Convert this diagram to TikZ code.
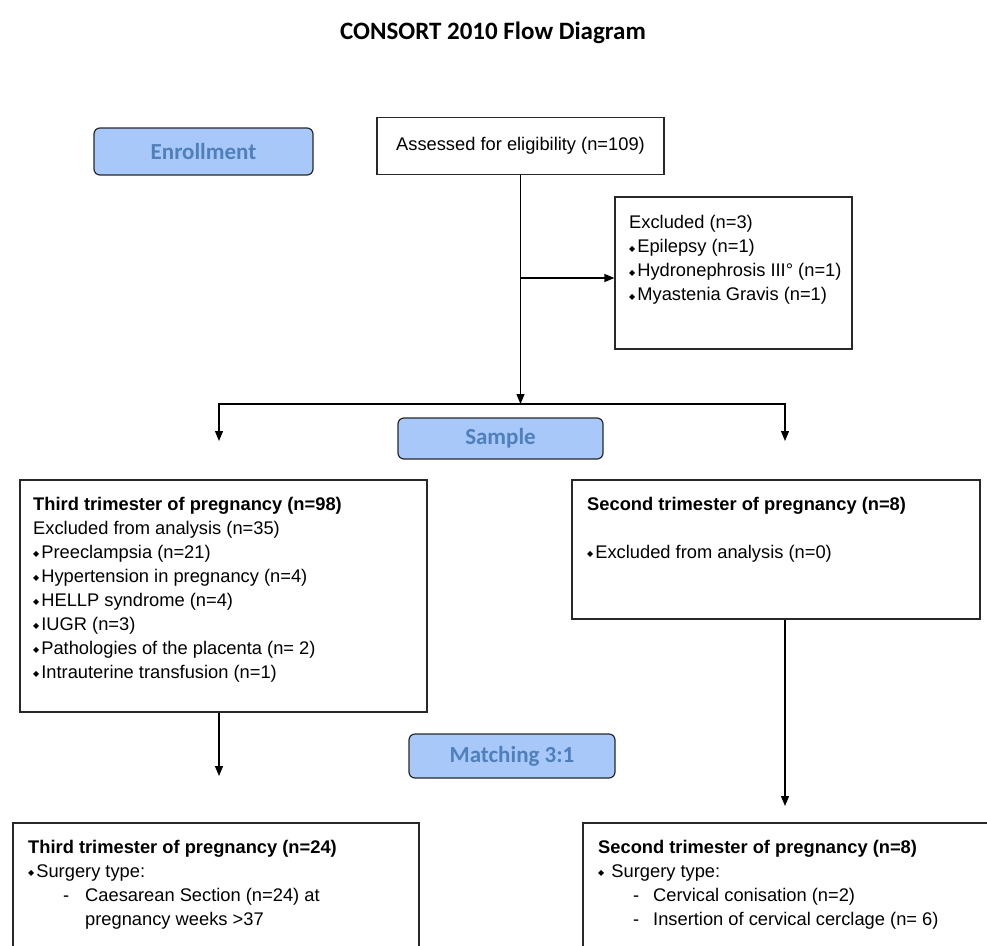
\documentclass[tikz,border=0pt]{standalone}
\usepackage{fontspec}
\setmainfont{Liberation Sans}
\newfontfamily\calfont{Carlito}
\newfontfamily\symfont{DejaVu Sans}
\usetikzlibrary{arrows.meta, positioning, calc}
\definecolor{stageblue}{RGB}{168, 200, 250}
\definecolor{stagetext}{RGB}{80, 128, 188}
\definecolor{boxline}{RGB}{40, 40, 40}
\newcommand{\dmd}{\raisebox{1.6pt}{\fontsize{8}{8}\selectfont\symfont ◆}\hspace{2pt}}
\tikzset{
  flowbox/.style={draw=boxline, line width=1.2pt, inner sep=0pt},
  stagebox/.style={draw=boxline, line width=1.2pt, rounded corners=6pt, fill=stageblue, text=stagetext, inner sep=0pt, font=\calfont\bfseries\fontsize{23}{27}\selectfont},
  flowtext/.style={anchor=north west, inner sep=0pt, align=left, font=\fontsize{18.3}{24}\selectfont},
  flowarrow/.style={line width=1.2pt, -{Triangle[length=10pt, width=8pt]}},
  flowline/.style={line width=1.2pt},
}

\begin{document}
\begin{tikzpicture}[x=1pt, y=-1pt]
  \useasboundingbox (0,0) rectangle (987,945);
  \clip (0,0) rectangle (987,945);

  % title
  \node[font=\calfont\bfseries\fontsize{25}{30}\selectfont] (title) at (493,33) {CONSORT 2010 Flow Diagram};

  % stage labels
  \node[stagebox, minimum width=219pt, minimum height=47pt] (enrol) at (203.5,151.5) {Enrollment};
  \node[stagebox, minimum width=205pt, minimum height=41pt] (sample) at (500.5,438.5) {Sample};
  \node[stagebox, minimum width=206pt, minimum height=44pt] (match) at (512,756) {Matching 3:1};

  % enrollment
  \node[flowbox, minimum width=287pt, minimum height=57pt, font=\fontsize{18.3}{24}\selectfont] (assess) at (520.5,146) {Assessed for eligibility (n=109)};
  \node[flowbox, minimum width=237pt, minimum height=152pt] (excl) at (733.5,273) {};
  \node[flowtext] (excltxt) at (629,211.7) {\strut Excluded (n=3)\\
    \dmd Epilepsy (n=1)\\
    \dmd Hydronephrosis III° (n=1)\\
    \dmd Myastenia Gravis (n=1)};

  % sample
  \node[flowbox, minimum width=407pt, minimum height=232pt] (third) at (223.5,596) {};
  \node[flowtext] (thirdtxt) at (33,493) {\strut\textbf{Third trimester of pregnancy (n=98)}\\
    Excluded from analysis (n=35)\\
    \dmd Preeclampsia (n=21)\\
    \dmd Hypertension in pregnancy (n=4)\\
    \dmd HELLP syndrome (n=4)\\
    \dmd IUGR (n=3)\\
    \dmd Pathologies of the placenta (n= 2)\\
    \dmd Intrauterine transfusion (n=1)};
  \node[flowbox, minimum width=408pt, minimum height=139pt] (second) at (776,549.5) {};
  \node[flowtext] (secondtxt) at (587,493) {\strut\textbf{Second trimester of pregnancy (n=8)}\\[24pt]
    \dmd Excluded from analysis (n=0)};

  % matched groups
  \node[flowbox, minimum width=406pt, minimum height=142pt] (thirdm) at (216,894) {};
  \node[flowtext] (thirdmtxt) at (28,836) {\strut\textbf{Third trimester of pregnancy (n=24)}\\
    \dmd Surgery type:\\
    \hspace*{35pt}\makebox[22pt][l]{-}Caesarean Section (n=24) at\\
    \hspace*{57pt}pregnancy weeks >37};
  \node[flowbox, minimum width=422pt, minimum height=142pt] (secondm) at (794,894) {};
  \node[flowtext] (secondmtxt) at (598,836) {\strut\textbf{Second trimester of pregnancy (n=8)}\\
    \dmd\ Surgery type:\\
    \hspace*{35pt}\makebox[20pt][l]{-}Cervical conisation (n=2)\\
    \hspace*{35pt}\makebox[20pt][l]{-}Insertion of cervical cerclage (n= 6)};

  % connectors
  \coordinate (split) at (520.5,404);
  \coordinate (exjoin) at (520.5,278);
  \coordinate (thirdin) at (219,441);
  \coordinate (secondin) at (785,441);
  \coordinate (thirdout) at (219,776);
  \coordinate (secondout) at (785,806);
  \draw[flowarrow] (assess.south) -- (split);
  \draw[flowarrow] (exjoin) -- (exjoin -| excl.west);
  \draw[flowarrow] (split) -| (thirdin);
  \draw[flowarrow] (split) -| (secondin);
  \draw[flowarrow] (thirdout |- third.south) -- (thirdout);
  \draw[flowarrow] (secondout |- second.south) -- (secondout);
\end{tikzpicture}
\end{document}
